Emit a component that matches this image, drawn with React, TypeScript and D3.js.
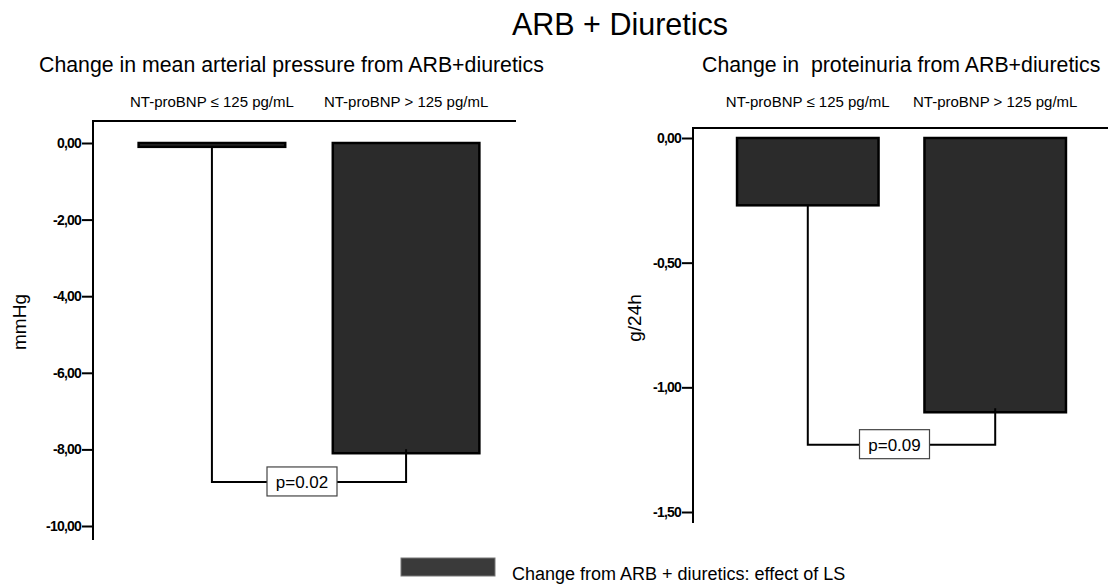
import React, { useEffect, useRef } from 'react';
import * as d3 from 'd3';

const categories = ['NT-proBNP ≤ 125 pg/mL', 'NT-proBNP > 125 pg/mL'];

// mean arterial pressure change (mmHg)
const mapValues = [-0.1, -8.1];
const mapBracket = -8.85;
const mapPValue = 'p=0.02';
const mapTicks = [0, -2, -4, -6, -8, -10];

// proteinuria change (g/24h)
const protValues = [-0.27, -1.1];
const protBracket = -1.23;
const protPValue = 'p=0.09';
const protTicks = [0, -0.5, -1, -1.5];

const FONT = '"Liberation Sans", Arial, sans-serif';
const NARROW = '"Liberation Sans Narrow", "Arial Narrow", "Liberation Sans", Arial, sans-serif';
const BAR_FILL = '#2b2b2b';

interface PanelCfg {
  title: string;
  titleX: number;
  unit: string;
  unitX: number;
  unitY: number;
  axisX: number;
  topY: number;
  bottomY: number;
  lineEnd: number;
  bandRange: [number, number];
  yDomain: [number, number];
  yRange: [number, number];
  values: number[];
  bracket: number;
  pValue: string;
  ticks: number[];
}

const fmt = (d: number) => (d < 0 ? '-' : '') + Math.abs(d).toFixed(2).replace('.', ',');

const App: React.FC = () => {
  const svgRef = useRef<SVGSVGElement>(null);

  useEffect(() => {
    if (!svgRef.current) return;
    const svg = d3.select(svgRef.current);
    svg.selectAll('*').remove();

    svg.append('text')
      .attr('x', 620)
      .attr('y', 35)
      .attr('text-anchor', 'middle')
      .attr('font-family', FONT)
      .attr('font-size', 30.5)
      .text('ARB + Diuretics');

    const panels: PanelCfg[] = [
      {
        title: 'Change in mean arterial pressure from ARB+diuretics',
        titleX: 39,
        unit: 'mmHg',
        unitX: 26,
        unitY: 322,
        axisX: 93,
        topY: 121,
        bottomY: 540,
        lineEnd: 516,
        bandRange: [93, 525],
        yDomain: [0, -10],
        yRange: [143, 526],
        values: mapValues,
        bracket: mapBracket,
        pValue: mapPValue,
        ticks: mapTicks,
      },
      {
        title: 'Change in  proteinuria from ARB+diuretics',
        titleX: 702,
        unit: 'g/24h',
        unitX: 641,
        unitY: 318,
        axisX: 693,
        topY: 128,
        bottomY: 523,
        lineEnd: 1108,
        bandRange: [693, 1110],
        yDomain: [0, -1.5],
        yRange: [138, 512],
        values: protValues,
        bracket: protBracket,
        pValue: protPValue,
        ticks: protTicks,
      },
    ];

    panels.forEach(p => {
      const x = d3.scaleBand<string>()
        .domain(categories)
        .range(p.bandRange)
        .paddingInner(0.245)
        .paddingOuter(0.235);
      const y = d3.scaleLinear().domain(p.yDomain).range(p.yRange);

      const g = svg.append('g');

      // panel title
      g.append('text')
        .attr('x', p.titleX)
        .attr('y', 72)
        .attr('font-family', FONT)
        .attr('font-size', 21.3)
        .style('white-space', 'pre')
        .text(p.title);

      // category labels above
      g.selectAll('text.cat')
        .data(categories)
        .enter()
        .append('text')
        .attr('class', 'cat')
        .attr('x', d => (x(d) || 0) + x.bandwidth() / 2)
        .attr('y', 107)
        .attr('text-anchor', 'middle')
        .attr('font-family', FONT)
        .attr('font-size', 15)
        .text(d => d);

      // bars
      g.selectAll('rect.bar')
        .data(p.values)
        .enter()
        .append('rect')
        .attr('class', 'bar')
        .attr('x', (_, i) => x(categories[i]) || 0)
        .attr('y', y(0))
        .attr('width', x.bandwidth())
        .attr('height', d => Math.max(1, y(d) - y(0)))
        .attr('fill', BAR_FILL)
        .attr('stroke', '#000')
        .attr('stroke-width', 2.5);

      // significance bracket
      const cx = categories.map(c => (x(c) || 0) + x.bandwidth() / 2);
      const by = y(p.bracket);
      const path = d3.path();
      path.moveTo(cx[0], y(p.values[0]));
      path.lineTo(cx[0], by);
      path.lineTo(cx[1], by);
      path.lineTo(cx[1], y(p.values[1]) - 4);
      g.append('path')
        .attr('d', path.toString())
        .attr('fill', 'none')
        .attr('stroke', '#000')
        .attr('stroke-width', 2);

      const midX = (cx[0] + cx[1]) / 2 - 7;
      g.append('rect')
        .attr('x', midX - 35)
        .attr('y', by - 15)
        .attr('width', 70)
        .attr('height', 29)
        .attr('fill', '#fff')
        .attr('stroke', '#444')
        .attr('stroke-width', 1.2);
      g.append('text')
        .attr('x', midX)
        .attr('y', by + 6)
        .attr('text-anchor', 'middle')
        .attr('font-family', FONT)
        .attr('font-size', 17)
        .text(p.pValue);

      // top frame line
      g.append('line')
        .attr('x1', p.axisX)
        .attr('x2', p.lineEnd)
        .attr('y1', p.topY)
        .attr('y2', p.topY)
        .attr('stroke', '#000')
        .attr('stroke-width', 2);

      // y axis
      const axis = g.append('g')
        .attr('transform', `translate(${p.axisX},0)`)
        .call(
          d3.axisLeft(y)
            .tickValues(p.ticks)
            .tickSize(11)
            .tickPadding(1)
            .tickFormat(d => fmt(d as number))
        );
      axis.select('.domain').remove();
      axis.selectAll('.tick line').attr('stroke', '#000').attr('stroke-width', 2);
      axis.selectAll('.tick text')
        .attr('fill', '#000')
        .attr('font-family', NARROW)
        .attr('font-weight', 'bold')
        .attr('font-size', 14)
        .attr('letter-spacing', -0.8);
      g.append('line')
        .attr('x1', p.axisX)
        .attr('x2', p.axisX)
        .attr('y1', p.topY - 1)
        .attr('y2', p.bottomY)
        .attr('stroke', '#000')
        .attr('stroke-width', 2);

      // unit label
      g.append('text')
        .attr('transform', `translate(${p.unitX},${p.unitY}) rotate(-90)`)
        .attr('text-anchor', 'middle')
        .attr('font-family', FONT)
        .attr('font-size', 19)
        .text(p.unit);
    });

    // legend
    svg.append('rect')
      .attr('x', 401)
      .attr('y', 558)
      .attr('width', 94)
      .attr('height', 18)
      .attr('fill', '#3a3a3a')
      .attr('stroke', '#777')
      .attr('stroke-width', 1);
    svg.append('text')
      .attr('x', 512)
      .attr('y', 580)
      .attr('font-family', FONT)
      .attr('font-size', 18)
      .text('Change from ARB + diuretics: effect of LS');
  }, []);

  return (
    <svg
      ref={svgRef}
      width={1108}
      height={584}
      style={{ position: 'absolute', left: 0, top: 0, background: '#fff' }}
    />
  );
};

export default App;
